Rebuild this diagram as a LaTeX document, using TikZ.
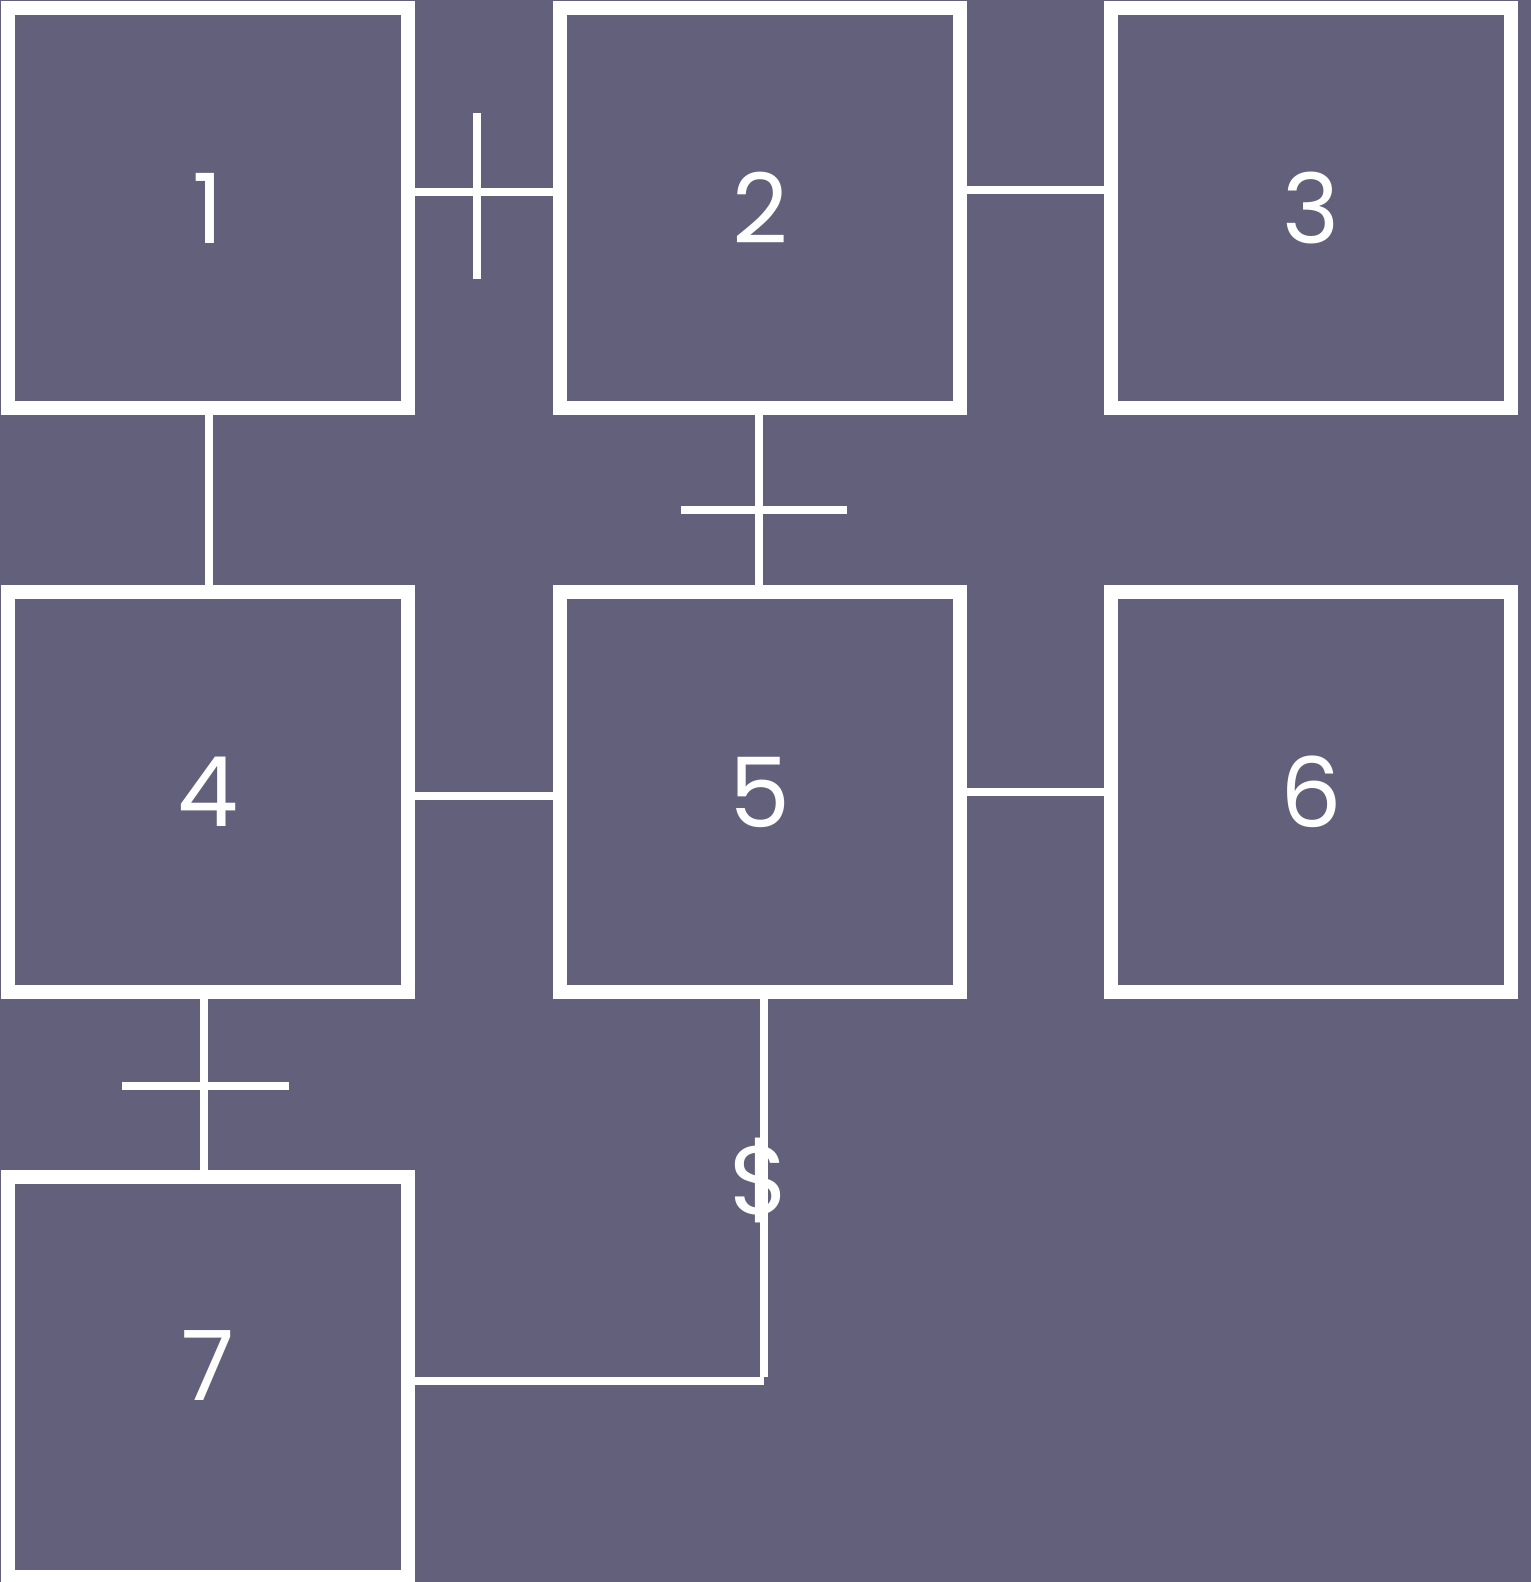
\documentclass[tikz,border=0pt]{standalone}
\usepackage{fontspec}
\setmainfont{Poppins}
\definecolor{bg}{HTML}{63607C}
\begin{document}
\begin{tikzpicture}[x=1pt,y=-1pt,
  box/.style={draw=white,fill=bg,line width=14pt,minimum width=400pt,minimum height=400pt,inner sep=0pt,outer sep=0pt,text=white,font=\fontsize{97}{97}\selectfont},
  link/.style={draw=white,line width=8pt},
  lbl/.style={text=white,font=\fontsize{97}{97}\selectfont,inner sep=0pt}]
\fill[bg] (0,0) rectangle (1531,1582);
\useasboundingbox (0,0) rectangle (1531,1582);
\node[box] (b1) at (208,208) {1};
\node[box] (b2) at (760,208) {2};
\node[box] (b3) at (1311,208) {3};
\node[box] (b4) at (208,792) {4};
\node[box] (b5) at (760,792) {5};
\node[box] (b6) at (1311,792) {6};
\node[box] (b7) at (208,1377) {\raisebox{23pt}{7}};
% connectors
\draw[link] (b1.east |- 0,192) -- (b2.west |- 0,192);
\draw[link] (477,113) -- (477,279);
\draw[link] (b2.east |- 0,190) -- (b3.west |- 0,190);
\draw[link] (b1.south -| 209,0) -- (b4.north -| 209,0);
\draw[link] (b2.south -| 759,0) -- (b5.north -| 759,0);
\draw[link] (681,510) -- (847,510);
\draw[link] (b4.east |- 0,796) -- (b5.west |- 0,796);
\draw[link] (b5.east |- 0,792) -- (b6.west |- 0,792);
\draw[link] (b4.south -| 204,0) -- (b7.north -| 204,0);
\draw[link] (122,1086) -- (289,1086);
\coordinate (c57) at (764,1377);
\coordinate (c57b) at (764,1381);
\draw[link] (b5.south -| 764,0) -- (c57);
\draw[link] (c57b) -- (b7.east |- c57b);
\node[lbl] (s) at (760,1180) {\$};
\end{tikzpicture}
\end{document}
